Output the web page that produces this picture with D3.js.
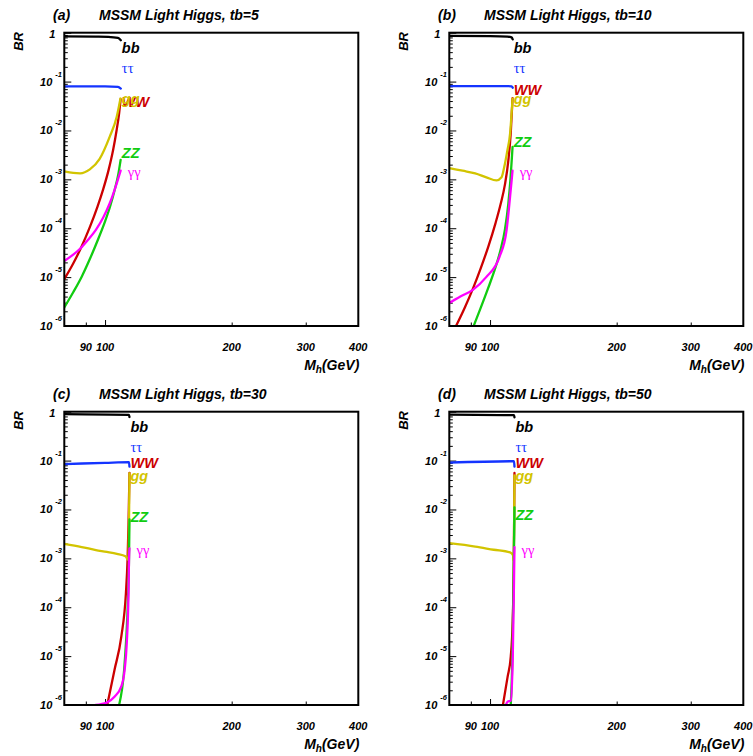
<!DOCTYPE html>
<html>
<head>
<meta charset="utf-8">
<title>MSSM Light Higgs branching ratios</title>
<script src="https://d3js.org/d3.v7.min.js"></script>
<style>
  body { margin: 0; background: #fff; }
  text { font-family: "Liberation Sans", Arial, sans-serif; font-weight: bold; font-style: italic; fill: #000; }
  text.greek { font-family: "Liberation Serif", "DejaVu Serif", serif; font-weight: normal; font-style: normal; }
  .frame { fill: none; stroke: #000; stroke-width: 2px; }
  .curve { fill: none; stroke-width: 2.3px; stroke-linejoin: round; stroke-linecap: round; }
  .tick line { stroke: #000; }
</style>
</head>
<body>
<div id="chart"></div>
<script>
// axes
const massDomain = [80, 400];
const brDomain = [1e-6, 1];
const massTicks = [90, 100, 200, 300, 400];
const brDecades = [0, -1, -2, -3, -4, -5, -6];

// panels
const panelTags = ["(a)", "(b)", "(c)", "(d)"];
const tanBeta = [5, 10, 30, 50];
const channels = ["bb", "ττ", "WW", "gg", "ZZ", "γγ"];
const channelColors = ["#000000", "#1434ff", "#cc0000", "#d2c400", "#11cc11", "#ff00ff"];

// [M_h (GeV), BR], tb = 5
const bb5 = [[80, 0.84], [95, 0.83], [101.7, 0.82], [107.3, 0.78], [109.0, 0.70]];
const tau5 = [[80, 0.080], [100, 0.080], [107.3, 0.078], [109.0, 0.072]];
const ww5 = [[80, 9.1e-6], [84, 1.9e-5], [88, 4.27e-5], [92, 1.05e-4], [96, 2.8e-4], [99, 6.3e-4], [102, 1.58e-3], [104.5, 3.98e-3], [106.5, 0.01], [108, 0.0224], [108.9, 0.0437]];
const gg5 = [[80, 1.45e-3], [84, 1.35e-3], [87.2, 1.33e-3], [92, 1.6e-3], [97, 2.6e-3], [102.6, 7.5e-3], [106.6, 0.019], [108.8, 0.045]];
const zz5 = [[80, 2.4e-6], [84, 4.9e-6], [88, 1.02e-5], [92, 2.34e-5], [96, 5.6e-5], [100, 1.38e-4], [103, 2.95e-4], [105.5, 6.3e-4], [107.5, 1.26e-3], [108.9, 2.5e-3]];
const gam5 = [[80, 2.14e-5], [84, 2.88e-5], [87.2, 3.8e-5], [91, 5.75e-5], [95.1, 9.3e-5], [99, 1.66e-4], [102.6, 3.24e-4], [106.6, 8.3e-4], [108.9, 1.51e-3]];

// tb = 10
const bb10 = [[80, 0.86], [100, 0.85], [110, 0.83], [112.5, 0.80], [113.2, 0.73]];
const tau10 = [[80, 0.081], [110, 0.081], [112.5, 0.080], [113.2, 0.075]];
const ww10 = [[83, 1e-6], [87, 2.34e-6], [91, 5.75e-6], [95, 1.51e-5], [99, 4.17e-5], [103, 1.26e-4], [106, 3.16e-4], [108.5, 7.9e-4], [110.5, 2.4e-3], [112, 8.9e-3], [113.1, 0.0457]];
const gg10 = [[80, 1.7e-3], [86, 1.5e-3], [92.2, 1.33e-3], [98, 1.1e-3], [103.6, 9.5e-4], [106.5, 1.1e-3], [108.1, 1.8e-3], [110, 4e-3], [111.6, 8.7e-3], [112.6, 0.025], [113.1, 0.045]];
const zz10 = [[91.4, 1e-6], [95, 2.34e-6], [99, 6.0e-6], [103, 1.58e-5], [106, 3.7e-5], [108.5, 9.5e-5], [110.5, 3.16e-4], [111.8, 1e-3], [112.6, 2.5e-3], [113.1, 4.6e-3]];
const gam10 = [[80, 2.95e-6], [85, 4e-6], [91, 5.5e-6], [97.9, 1.0e-5], [105.3, 2.6e-5], [109.5, 9.3e-5], [111.6, 4.5e-4], [112.6, 1.0e-3], [113.1, 1.5e-3]];

// tb = 30
const bb30 = [[80, 0.89], [114, 0.86], [114.3, 0.78]];
const tau30 = [[80, 0.085], [100, 0.09], [114, 0.093], [114.3, 0.075]];
const ww30 = [[101.2, 1e-6], [105.3, 5.2e-6], [109.3, 2.5e-5], [112.1, 1.95e-4], [113.1, 9.3e-4], [113.7, 5e-3], [114.3, 0.056]];
const gg30 = [[80, 1.97e-3], [88, 1.7e-3], [95.1, 1.48e-3], [101, 1.35e-3], [106.7, 1.23e-3], [111.8, 1.1e-3], [113.6, 9.3e-4], [114.0, 5e-3], [114.3, 0.055]];
const zz30 = [[108, 1e-6], [111, 5.2e-6], [112.1, 1.8e-5], [113.5, 1.95e-4], [114.0, 9.3e-4], [114.3, 6.3e-3]];
const gam30 = [[95, 1e-6], [100.9, 1.12e-6], [105.3, 1.48e-6], [109.3, 2.4e-6], [111.3, 5.2e-6], [112.6, 1.8e-5], [113.7, 1.95e-4], [114.0, 9.3e-4], [114.3, 1.6e-3]];

// tb = 50
const bb50 = [[80, 0.875], [114, 0.85], [114.3, 0.77]];
const tau50 = [[80, 0.091], [114, 0.097], [114.3, 0.075]];
const ww50 = [[107.3, 1e-6], [110.1, 3.8e-6], [112, 9.8e-6], [113.2, 5.5e-5], [113.9, 9.3e-4], [114.3, 0.056]];
const gg50 = [[80, 2.04e-3], [92.2, 1.74e-3], [102, 1.5e-3], [111.6, 1.32e-3], [113.3, 1.17e-3], [113.8, 9e-4], [114.1, 6e-3], [114.3, 0.05]];
const zz50 = [[112, 1e-6], [113, 1e-5], [113.7, 3e-4], [114.3, 0.011]];
const gam50 = [[109, 1e-6], [110.1, 1.17e-6], [112, 1.23e-6], [113.2, 8.3e-6], [113.9, 1.95e-4], [114.3, 1.7e-3]];

const brData = [
  [bb5, tau5, ww5, gg5, zz5, gam5],
  [bb10, tau10, ww10, gg10, zz10, gam10],
  [bb30, tau30, ww30, gg30, zz30, gam30],
  [bb50, tau50, ww50, gg50, zz50, gam50]
];

// BR at the baseline of each channel name
const labelBR = [
  [0.376, 0.150, 0.0303, 0.0348, 2.74e-3, 1.12e-3],
  [0.376, 0.150, 0.0532, 0.0348, 4.6e-3, 1.12e-3],
  [0.376, 0.150, 0.0706, 0.0383, 5.55e-3, 1.17e-3],
  [0.376, 0.150, 0.0706, 0.0383, 6.1e-3, 1.17e-3]
];

const width = 753, height = 756;
const frame = { left: 64.3, top: 32.7, width: 294, height: 293.3 };
const step = { x: 385, y: 379 };

const svg = d3.select("#chart")
  .append("svg")
  .attr("width", width)
  .attr("height", height);

const x = d3.scaleLog().domain(massDomain).range([0, frame.width]);
const y = d3.scaleLog().domain(brDomain).range([frame.height, 0]);

const line = d3.line()
  .x(d => x(d[0]))
  .y(d => y(d[1]))
  .curve(d3.curveMonotoneX);

const majorBR = brDecades.map(k => Math.pow(10, k));
const minorBR = brDecades.filter(k => k < 0)
  .flatMap(k => d3.range(2, 10).map(m => m * Math.pow(10, k)));

panelTags.forEach((tag, i) => {
  const col = i % 2, row = Math.floor(i / 2);
  const g = svg.append("g")
    .attr("transform", `translate(${frame.left + col * step.x},${frame.top + row * step.y})`);

  const clipId = "clip" + i;
  g.append("clipPath").attr("id", clipId)
    .append("rect").attr("width", frame.width).attr("height", frame.height);

  // y ticks (inside the frame)
  g.append("g").call(d3.axisLeft(y).tickValues(majorBR).tickSize(-7).tickFormat(""))
    .call(a => a.select(".domain").remove());
  g.append("g").call(d3.axisLeft(y).tickValues(minorBR).tickSize(-3.5).tickFormat(""))
    .call(a => a.select(".domain").remove());

  // x ticks
  g.append("g").attr("transform", `translate(0,${frame.height})`)
    .call(d3.axisBottom(x).tickValues([100]).tickSize(-6).tickFormat(""))
    .call(a => a.select(".domain").remove());
  g.append("g").attr("transform", `translate(0,${frame.height})`)
    .call(d3.axisBottom(x).tickValues([90, 200, 300]).tickSize(-3.5).tickFormat(""))
    .call(a => a.select(".domain").remove());

  // curves
  const curves = g.append("g").attr("clip-path", `url(#${clipId})`);
  brData[i].forEach((series, c) => {
    curves.append("path")
      .datum(series)
      .attr("class", "curve")
      .attr("stroke", channelColors[c])
      .attr("d", line);
  });

  g.append("rect").attr("class", "frame")
    .attr("width", frame.width).attr("height", frame.height);

  // y tick labels
  brDecades.forEach(k => {
    const ty = y(Math.pow(10, k));
    if (k === 0) {
      g.append("text").attr("x", -9).attr("y", ty + 5.5)
        .attr("text-anchor", "end").style("font-size", "11px").text("1");
    } else {
      g.append("text").attr("x", -12).attr("y", ty + 4)
        .attr("text-anchor", "end").style("font-size", "11px").text("10");
      g.append("text").attr("x", -9).attr("y", ty - 5)
        .style("font-size", "7.5px").text(String(k));
    }
  });

  // x tick labels
  massTicks.forEach(v => {
    g.append("text").attr("x", x(v)).attr("y", frame.height + 24.7)
      .attr("text-anchor", "middle").style("font-size", "11px").text(v);
  });

  // axis titles
  const xt = g.append("text").attr("x", frame.width + 1).attr("y", frame.height + 44)
    .attr("text-anchor", "end").style("font-size", "14px");
  xt.append("tspan").text("M");
  xt.append("tspan").attr("dy", 3).style("font-size", "10px").text("h");
  xt.append("tspan").attr("dy", -3).text("(GeV)");

  g.append("text")
    .attr("transform", "translate(-41.3,-0.7) rotate(-90)")
    .attr("text-anchor", "end").style("font-size", "13px").text("BR");

  // panel title
  g.append("text").attr("x", -11.3).attr("y", -12.7).style("font-size", "14px").text(tag);
  g.append("text").attr("x", 34.7).attr("y", -12.7).style("font-size", "14px")
    .text(`MSSM Light Higgs, tb=${tanBeta[i]}`);

  // channel names next to the curve ends
  const bbSeries = brData[i][0];
  const xEnd = x(bbSeries[bbSeries.length - 1][0]);
  channels.forEach((name, c) => {
    const greek = name === "ττ" || name === "γγ";
    g.append("text")
      .attr("class", greek ? "greek" : null)
      .attr("x", xEnd + (name === "γγ" ? 7 : 1))
      .attr("y", y(labelBR[i][c]))
      .style("fill", channelColors[c])
      .style("font-size", "14.5px")
      .text(name);
  });
});
</script>
</body>
</html>
